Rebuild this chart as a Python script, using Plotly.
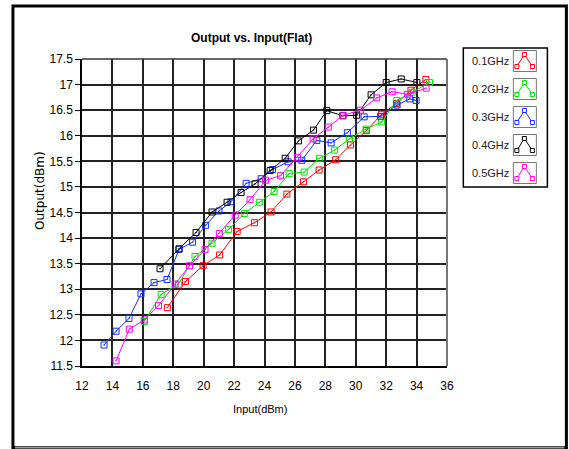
import plotly.graph_objects as go

# ---------------- data ----------------
series_names = ["0.1GHz", "0.2GHz", "0.3GHz", "0.4GHz", "0.5GHz"]
series_colors = ["#ff0000", "#00e600", "#1030ff", "#000000", "#ff00ff"]

x_01 = [17.61, 18.80, 19.96, 21.05, 22.20, 23.34, 24.43, 25.47, 26.56, 27.59, 28.68, 29.65, 30.70, 31.70, 32.68, 33.63, 34.61]
y_01 = [12.64, 13.15, 13.46, 13.67, 14.13, 14.30, 14.51, 14.86, 15.10, 15.33, 15.53, 15.82, 16.10, 16.42, 16.63, 16.89, 17.10]

x_02 = [16.10, 17.20, 18.34, 19.43, 20.55, 21.64, 22.67, 23.66, 24.63, 25.62, 26.61, 27.61, 28.61, 29.59, 30.68, 31.70, 32.70, 33.71, 34.85]
y_02 = [12.37, 12.90, 13.10, 13.64, 13.90, 14.17, 14.48, 14.70, 14.91, 15.26, 15.29, 15.56, 15.72, 15.94, 16.13, 16.27, 16.69, 16.85, 17.04]

x_03 = [13.45, 14.24, 15.09, 15.88, 16.74, 17.59, 18.38, 19.27, 20.13, 21.01, 21.80, 22.79, 23.78, 24.53, 25.55, 26.45, 27.44, 28.38, 29.45, 30.55, 31.63, 32.72, 33.55, 33.97]
y_03 = [11.91, 12.18, 12.43, 12.91, 13.13, 13.19, 13.78, 13.92, 14.25, 14.53, 14.71, 15.07, 15.16, 15.34, 15.49, 15.52, 15.91, 15.86, 16.06, 16.37, 16.38, 16.60, 16.72, 16.69]

x_04 = [17.13, 18.38, 19.50, 20.55, 21.54, 22.46, 23.38, 24.37, 25.36, 26.23, 27.22, 28.10, 29.15, 30.06, 31.01, 32.00, 32.99, 34.02]
y_04 = [13.40, 13.79, 14.11, 14.51, 14.70, 14.89, 15.06, 15.32, 15.56, 15.90, 16.11, 16.49, 16.39, 16.40, 16.80, 17.04, 17.11, 17.04]

x_05 = [14.24, 15.11, 16.10, 17.03, 18.12, 19.07, 20.09, 21.03, 22.07, 23.05, 24.07, 25.06, 26.16, 27.20, 28.20, 29.17, 30.32, 31.38, 32.39, 33.41, 34.63]
y_05 = [11.60, 12.22, 12.40, 12.68, 13.10, 13.46, 13.78, 14.09, 14.45, 14.75, 15.13, 15.22, 15.58, 15.94, 16.17, 16.40, 16.50, 16.74, 16.86, 16.81, 16.93]

x_ticks = [12, 14, 16, 18, 20, 22, 24, 26, 28, 30, 32, 34, 36]
y_ticks = [11.5, 12, 12.5, 13, 13.5, 14, 14.5, 15, 15.5, 16, 16.5, 17, 17.5]
y_tick_labels = ["11.5", "12", "12.5", "13", "13.5", "14", "14.5", "15", "15.5", "16", "16.5", "17", "17.5"]

title_text = "Output vs. Input(Flat)"
x_title = "Input(dBm)"
y_title = "Output(dBm)"

# ---------------- layout geometry (page pixels) ----------------
W, H = 569, 449
L, R, T, B = 82, 446.7, 59, 366
pw, ph = R - L, B - T


def px(x):
    return (x - L) / pw


def py(y):
    return (B - y) / ph


FONT = "Liberation Sans"

fig = go.Figure()
xs = [x_01, x_02, x_03, x_04, x_05]
ys = [y_01, y_02, y_03, y_04, y_05]
for name, col, xv, yv in zip(series_names, series_colors, xs, ys):
    fig.add_trace(go.Scatter(
        x=xv, y=yv, name=name, mode="lines+markers",
        line=dict(color=col, width=1),
        marker=dict(symbol="square-open-dot", size=6, color=col, line=dict(width=1, color=col)),
        showlegend=False,
    ))

shapes = []
annotations = []

# outer frame
shapes.append(dict(type="rect", xref="paper", yref="paper", x0=px(13), x1=px(566), y0=py(447.5), y1=py(6),
                   line=dict(color="black", width=3), layer="below"))
shapes.append(dict(type="line", xref="paper", yref="paper", x0=px(15), x1=px(564), y0=py(447.5), y1=py(447.5),
                   line=dict(color="#999999", width=2)))

# plot frame (top/right)
shapes.append(dict(type="line", xref="paper", yref="paper", x0=0, x1=1, y0=1, y1=1,
                   line=dict(color="#333333", width=1.5)))
shapes.append(dict(type="line", xref="paper", yref="paper", x0=1, x1=1, y0=0, y1=1,
                   line=dict(color="#777777", width=2)))

# custom legend box
shapes.append(dict(type="rect", xref="paper", yref="paper", x0=px(463), x1=px(547), y0=py(187), y1=py(48),
                   line=dict(color="black", width=1.5), fillcolor="white"))
entry_y = [60.5, 88.5, 116.5, 144.5, 172.5]
for name, col, ey in zip(series_names, series_colors, entry_y):
    annotations.append(dict(text=name, xref="paper", yref="paper", x=px(490), y=py(ey), showarrow=False,
                            xanchor="center", yanchor="middle", font=dict(family=FONT, size=11, color="#222")))
    shapes.append(dict(type="rect", xref="paper", yref="paper", x0=px(513), x1=px(536), y0=py(ey + 11), y1=py(ey - 10),
                       line=dict(color="#777777", width=1), fillcolor="white"))
    path = "M {} {} L {} {} L {} {}".format(px(516.5), py(ey + 6), px(524), py(ey - 6), px(532), py(ey + 6))
    shapes.append(dict(type="path", xref="paper", yref="paper", path=path, line=dict(color=col, width=1)))
    for mx, my in [(516.5, ey + 6), (524, ey - 6), (532, ey + 6)]:
        shapes.append(dict(type="rect", xref="paper", yref="paper", x0=px(mx - 2), x1=px(mx + 2),
                           y0=py(my + 2), y1=py(my - 2), line=dict(color=col, width=1), fillcolor="white"))

annotations.append(dict(text="<b>" + title_text + "</b>", xref="paper", yref="paper", x=px(251), y=py(38),
                        showarrow=False, xanchor="center", yanchor="middle",
                        font=dict(family=FONT, size=12, color="black")))
annotations.append(dict(text=x_title, xref="paper", yref="paper", x=px(260), y=py(409),
                        showarrow=False, xanchor="center", yanchor="middle",
                        font=dict(family=FONT, size=11, color="black")))
annotations.append(dict(text=y_title, xref="paper", yref="paper", x=px(40), y=py(190), textangle=-90,
                        showarrow=False, xanchor="center", yanchor="middle",
                        font=dict(family="DejaVu Sans", size=12, color="black")))

fig.update_layout(
    width=W, height=H,
    margin=dict(l=L, r=W - R, t=T, b=H - B, pad=0),
    paper_bgcolor="white", plot_bgcolor="white",
    shapes=shapes, annotations=annotations,
    font=dict(family=FONT, size=12, color="black"),
)
fig.update_xaxes(
    range=[12, 36], tickvals=x_ticks, ticks="", showgrid=True, gridcolor="#222222", gridwidth=1.5,
    showline=True, linecolor="black", linewidth=1.5, zeroline=False, ticklabelstandoff=8,
    tickfont=dict(family=FONT, size=12, color="black"),
)
fig.update_yaxes(
    range=[11.5, 17.5], tickvals=y_ticks, ticktext=y_tick_labels, ticks="outside", ticklen=5,
    tickcolor="black", showgrid=True, gridcolor="#222222", gridwidth=1.5,
    showline=True, linecolor="black", linewidth=1.5, zeroline=False,
    tickfont=dict(family=FONT, size=12, color="black"),
)

fig.write_html(
    "out.html",
    config={"displayModeBar": False},
    post_script="document.body.style.margin='0';document.body.style.overflow='hidden';",
)
